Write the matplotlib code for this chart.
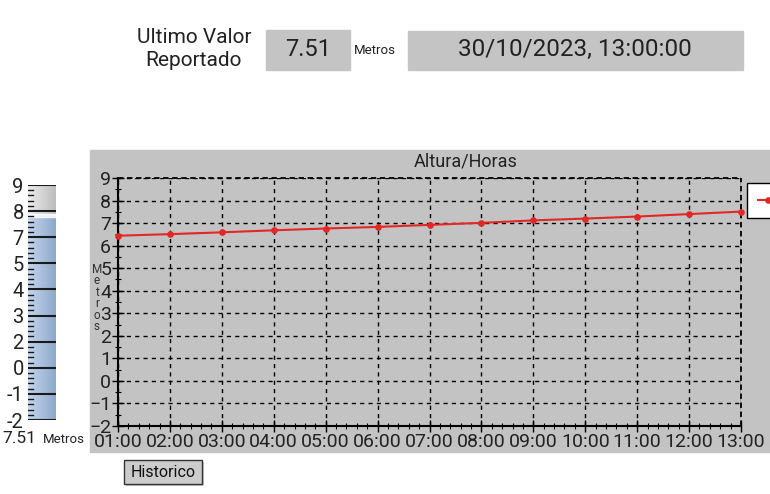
import numpy as np
import matplotlib.pyplot as plt
from matplotlib.colors import LinearSegmentedColormap
from matplotlib.patches import Rectangle
from matplotlib.ticker import MultipleLocator, AutoMinorLocator

plt.rcParams['font.family'] = ['Roboto', 'DejaVu Sans']

# data
horas = ['01:00', '02:00', '03:00', '04:00', '05:00', '06:00', '07:00',
         '08:00', '09:00', '10:00', '11:00', '12:00', '13:00']
altura = [6.44, 6.51, 6.59, 6.68, 6.76, 6.83, 6.92, 7.01, 7.12, 7.20, 7.29, 7.40, 7.51]
ultimo_valor = 7.51
fecha = '30/10/2023, 13:00:00'
gauge_labels = ['9', '8', '7', '5', '4', '3', '2', '0', '-1', '-2']
gauge_min, gauge_max = -2, 9

W, H = 770, 494
fig = plt.figure(figsize=(W / 100, H / 100), dpi=100)


def box(x0, y0, x1, y1):
    # pixel box (top-left origin) -> figure fraction rect
    return [x0 / W, 1 - y1 / H, (x1 - x0) / W, (y1 - y0) / H]


def rect(x0, y0, x1, y1, **kw):
    b = box(x0, y0, x1, y1)
    fig.add_artist(Rectangle((b[0], b[1]), b[2], b[3], transform=fig.transFigure, **kw))


# ---- header ----
fig.text(194 / W, 1 - 49 / H, 'Ultimo Valor\nReportado', ha='center', va='center',
         fontsize=15, linespacing=1.3, color='#222222')
rect(266, 30, 350, 70, color='#c4c4c4', zorder=0)
fig.text(308 / W, 1 - 49 / H, f'{ultimo_valor:.2f}', ha='center', va='center',
         fontsize=17, color='#222222')
fig.text(375 / W, 1 - 51 / H, 'Metros', ha='center', va='center', fontsize=9.5, color='#222222')
rect(408, 31, 743, 70, color='#c4c4c4', zorder=0)
fig.text(575 / W, 1 - 49 / H, fecha, ha='center', va='center', fontsize=17.5, color='#222222')

# ---- gray panel behind the chart ----
rect(90, 150, 770, 452, color='#c3c3c3', zorder=-1)
fig.text(466 / W, 1 - 161 / H, 'Altura/Horas', ha='center', va='center', fontsize=13, color='#222222')
fig.text(97 / W, 1 - 298 / H, 'M\ne\nt\nr\no\ns', ha='center', va='center',
         fontsize=8.5, linespacing=0.85, color='#333333')

# ---- main chart ----
ax = fig.add_axes(box(118, 178, 741, 426))
ax.set_zorder(1)
ax.set_facecolor('#c3c3c3')
x = np.arange(len(horas))
ax.plot(x, altura, '-o', color='#e32626', lw=1.5, ms=3.8, label='Altura', clip_on=False, zorder=3)
ax.set_xlim(0, len(horas) - 1)
ax.set_ylim(-2, 9)
ax.set_xticks(x)
ax.set_xticklabels(horas)
ax.yaxis.set_major_locator(MultipleLocator(1))
ax.yaxis.set_minor_locator(AutoMinorLocator(2))
ax.xaxis.set_minor_locator(AutoMinorLocator(5))
ax.tick_params(which='major', direction='inout', length=8, width=1, labelsize=14,
               colors='black', pad=1, labelcolor='#222222')
ax.tick_params(which='minor', direction='inout', length=4, width=0.8)
ax.grid(True, which='major', color='black', ls=(0, (3, 3)), lw=1)
for s in ['top', 'right']:
    ax.spines[s].set_visible(False)
ax.spines['left'].set_linewidth(1.5)
ax.spines['bottom'].set_linewidth(1.5)
ax.plot([0, 1], [1, 1], transform=ax.transAxes, color='black', ls=(0, (3, 2)), lw=1.3, clip_on=False)
ax.plot([1, 1], [0, 1], transform=ax.transAxes, color='black', ls=(0, (3, 2)), lw=1.3, clip_on=False)
leg = ax.legend(loc='upper left', bbox_to_anchor=(1.0096, 0.98), borderaxespad=0, frameon=True,
                fancybox=False, edgecolor='black', framealpha=1, fontsize=9, handlelength=1.6,
                borderpad=0.9)
leg.get_frame().set_linewidth(1)

# ---- gauge ----
gx = fig.add_axes(box(28, 185, 56, 420))
gx.set_zorder(1)
gx.set_xlim(0, 1)
gx.set_ylim(gauge_min, gauge_max)
grad = np.linspace(0, 1, 50).reshape(1, -1)
gx.imshow(grad, extent=[0, 1, ultimo_valor, gauge_max], aspect='auto',
          cmap=LinearSegmentedColormap.from_list('g', ['#ececec', '#bdbdbd']))
gx.imshow(grad, extent=[0, 1, gauge_min, ultimo_valor], aspect='auto',
          cmap=LinearSegmentedColormap.from_list('b', ['#c4d6ec', '#8ea8cc']))
gx.axhspan(ultimo_valor, ultimo_valor + 0.15, color='white', alpha=0.8)
major_pos = np.linspace(gauge_max, gauge_min, len(gauge_labels))
for p in major_pos:
    gx.axhline(p, color='#1a1a1a', lw=1.5)
step = major_pos[0] - major_pos[1]
for p in major_pos[:-1]:
    for k in range(1, 5):
        gx.plot([0, 0.18], [p - k * step / 5] * 2, color='#1a1a1a', lw=1)
gx.set_yticks(major_pos)
gx.set_yticklabels(gauge_labels)
gx.tick_params(axis='y', length=0, labelsize=14.5, pad=3, labelcolor='#222222')
gx.set_xticks([])
for s in gx.spines.values():
    s.set_visible(False)
fig.text(19 / W, 1 - 438 / H, f'{ultimo_valor:.2f}', ha='center', va='center', fontsize=12.5, color='#222222')
fig.text(64 / W, 1 - 439 / H, 'Metros', ha='center', va='center', fontsize=9.5, color='#222222')

# ---- button ----
rect(126, 462, 204, 486, facecolor='#999999', edgecolor='none', alpha=0.5)
rect(124, 460, 202, 484, facecolor='#cccccc', edgecolor='#333333', lw=1)
fig.text(163 / W, 1 - 472 / H, 'Historico', ha='center', va='center', fontsize=11.5, color='#111111')

plt.savefig('out.png', dpi=100)
